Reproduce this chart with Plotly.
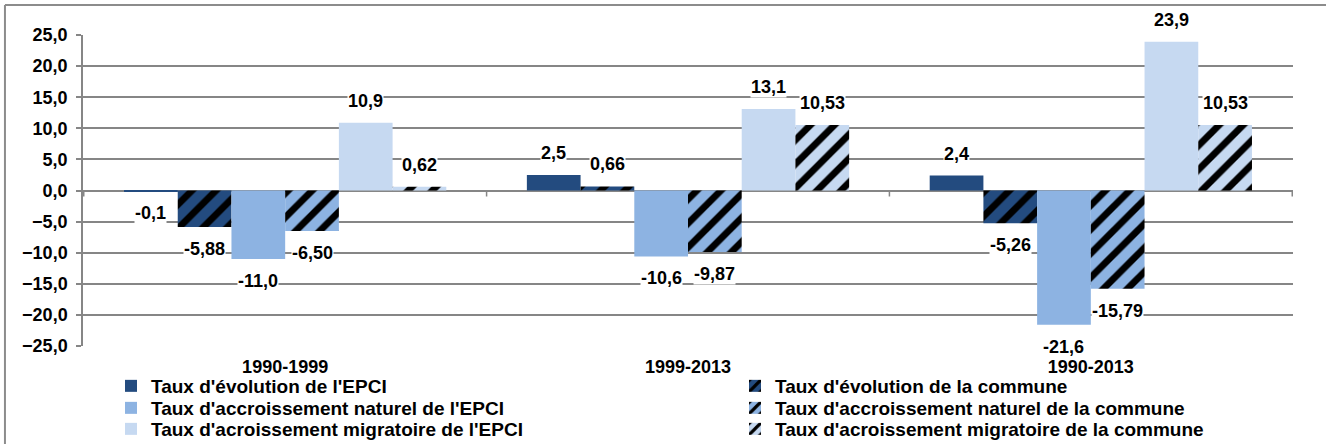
import plotly.graph_objects as go

categories = ["1990-1999", "1999-2013", "1990-2013"]

series_names = [
    "Taux d'évolution de l'EPCI",
    "Taux d'évolution de la commune",
    "Taux d'accroissement naturel de l'EPCI",
    "Taux d'accroissement naturel de la commune",
    "Taux d'acroissement migratoire de l'EPCI",
    "Taux d'acroissement migratoire de la commune",
]
evol_epci = [-0.1, 2.5, 2.4]
evol_commune = [-5.88, 0.66, -5.26]
nat_epci = [-11.0, -10.6, -21.6]
nat_commune = [-6.50, -9.87, -15.79]
migr_epci = [10.9, 13.1, 23.9]
migr_commune = [0.62, 10.53, 10.53]
series_values = [evol_epci, evol_commune, nat_epci, nat_commune, migr_epci, migr_commune]
decimals = [1, 2, 1, 2, 1, 2]

colors = ["#234B7F", "#234B7F", "#8DB3E2", "#8DB3E2", "#C6D9F1", "#C6D9F1"]
hatched = [False, True, False, True, False, True]

FONT = "Liberation Sans, Arial, sans-serif"
FS = 18
LEG_FS = 19

# legend placement: (text-left x px, row-centre y px) per series
legend_cols = [111, 735]
legend_rows = [386, 408, 429]

fig = go.Figure()
annotations = []
n = len(series_names)
legend_layouts = {}
for i, (name, vals) in enumerate(zip(series_names, series_values)):
    marker = dict(color=colors[i], line=dict(width=0))
    if hatched[i]:
        marker["pattern"] = dict(shape="/", fgcolor="#000000", bgcolor=colors[i],
                                 fgopacity=1, size=17, solidity=0.4, fillmode="replace")
    lname = "legend" if i == 0 else f"legend{i + 1}"
    fig.add_trace(go.Bar(
        x=categories, y=vals, name=name, marker=marker,
        offsetgroup=str(i), legend=lname,
    ))
    legend_layouts[lname] = dict(
        xref="container", yref="container",
        x=legend_cols[i % 2] / 1326, y=1 - legend_rows[i // 2] / 444,
        xanchor="left", yanchor="middle", orientation="v",
        bgcolor="rgba(0,0,0,0)",
        font=dict(family=FONT, size=LEG_FS, color="#000000", weight="bold"),
        itemclick=False, itemdoubleclick=False,
    )

# data labels
group_w = 0.8
bar_w = group_w / n
for i, vals in enumerate(series_values):
    for j, v in enumerate(vals):
        xpos = j - group_w / 2 + bar_w * (i + 0.5)
        txt = f"{v:.{decimals[i]}f}".replace(".", ",")
        annotations.append(dict(
            x=xpos, y=v, xref="x", yref="y", text="<b>%s</b>" % txt,
            showarrow=False, yshift=22 if v >= 0 else -22,
            font=dict(family=FONT, size=FS, color="#000000"),
            bgcolor="#FFFFFF", borderpad=0,
        ))

shapes = []
# category boundary tick marks on the zero line
for b in [-0.5, 0.5, 1.5, 2.5]:
    shapes.append(dict(type="line", xref="x", yref="y", x0=b, x1=b,
                       ysizemode="pixel", yanchor=0, y0=0, y1=-6,
                       line=dict(color="#868686", width=1.5)))
# outer frame (top and left edges)
shapes.append(dict(type="line", xref="paper", yref="paper",
                   x0=-0.0645, x1=1.05, y0=1.0965, y1=1.0965,
                   line=dict(color="#8C8C8C", width=2)))
shapes.append(dict(type="line", xref="paper", yref="paper",
                   x0=-0.0645, x1=-0.0645, y0=1.0965, y1=-0.35,
                   line=dict(color="#8C8C8C", width=2)))

fig.update_layout(
    width=1326, height=444,
    margin=dict(l=83, r=33, t=35, b=98, autoexpand=False),
    paper_bgcolor="#FFFFFF", plot_bgcolor="#FFFFFF",
    barmode="group", bargap=0.2, bargroupgap=0,
    separators=", ",
    font=dict(family=FONT, size=FS, color="#000000"),
    annotations=annotations, shapes=shapes,
    showlegend=True,
    **legend_layouts,
)
fig.update_yaxes(
    range=[-25, 25], dtick=5, tickformat=".1f", automargin=False,
    showgrid=True, gridcolor="#868686", gridwidth=1.5,
    showline=True, linecolor="#868686", linewidth=1.5,
    ticks="outside", ticklen=5, tickcolor="#868686", tickwidth=1.5,
    ticklabelstandoff=5,
    zeroline=True, zerolinecolor="#868686", zerolinewidth=1.5,
    tickfont=dict(family=FONT, size=FS, color="#000000", weight="bold"),
)
fig.update_xaxes(
    showgrid=False, showline=False, ticks="", automargin=False,
    ticklabelstandoff=8,
    tickfont=dict(family=FONT, size=FS, color="#000000", weight="bold"),
)

fig.write_html("out.html", config={"displayModeBar": False},
               post_script="document.body.style.margin='0';document.body.style.overflow='hidden';")
